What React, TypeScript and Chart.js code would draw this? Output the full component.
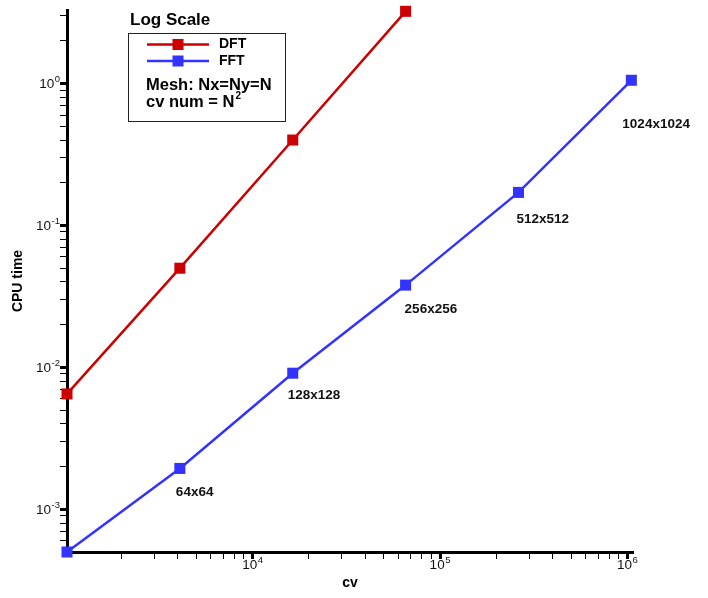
import React, { useEffect, useRef } from 'react';
import { Chart, registerables } from 'chart.js';

Chart.register(...registerables);

// ---- data ----
const cvValues = [1024, 4096, 16384, 65536, 262144, 1048576];
const dftTimes = [0.0065, 0.05, 0.4, 3.23];
const fftTimes = [0.0005, 0.00194, 0.0091, 0.038, 0.171, 1.055];
const meshLabels = ['', '64x64', '128x128', '256x256', '512x512', '1024x1024'];
const xMin = 1024;
const xMax = 1.07e6;
const yMin = 0.0005;
const yMax = 3.3;

// ---- style ----
const FONT = "'Liberation Sans', Arial, Helvetica, sans-serif";
const RED = '#cc0000';
const BLUE = '#3333ff';
const labelOffsets: [number, number][] = [
  [0, 0],
  [-4, 23.5],
  [-5, 22.5],
  [-1, 24],
  [-2, 27],
  [-9, 44],
];

function makeLogTicks(min: number, max: number) {
  const ticks: { value: number; major: boolean }[] = [];
  const e0 = Math.floor(Math.log10(min));
  const e1 = Math.ceil(Math.log10(max));
  for (let e = e0; e <= e1; e++) {
    for (let d = 1; d <= 9; d++) {
      const v = parseFloat((d * Math.pow(10, e)).toPrecision(6));
      if (v > min * 1.001 && v <= max) ticks.push({ value: v, major: d === 1 });
    }
  }
  return ticks;
}

function isMajor(v: number) {
  const l = Math.log10(v);
  return Math.abs(l - Math.round(l)) < 1e-6;
}

function drawPow(ctx: CanvasRenderingContext2D, exp: number, x: number, y: number, align: 'right' | 'center') {
  ctx.save();
  ctx.fillStyle = '#111';
  ctx.textBaseline = 'middle';
  ctx.textAlign = 'left';
  const baseFont = `13.5px ${FONT}`;
  const supFont = `9.5px ${FONT}`;
  ctx.font = baseFont;
  const w10 = ctx.measureText('10').width;
  ctx.font = supFont;
  const sup = String(exp);
  const ws = ctx.measureText(sup).width;
  const total = w10 + ws + 0.5;
  const start = align === 'right' ? x - total : x - total / 2;
  ctx.font = baseFont;
  ctx.fillText('10', start, y);
  ctx.font = supFont;
  ctx.fillText(sup, start + w10 + 0.5, y - 5);
  ctx.restore();
}

const overlayPlugin = {
  id: 'overlay',
  afterDraw(chart: any) {
    const ctx: CanvasRenderingContext2D = chart.ctx;
    const xs = chart.scales.x;
    const ys = chart.scales.y;

    // tick labels (major only)
    ys.ticks.forEach((t: any) => {
      if (!isMajor(t.value)) return;
      const py = ys.getPixelForValue(t.value);
      drawPow(ctx, Math.round(Math.log10(t.value)), ys.right - 7, py + 1, 'right');
    });
    xs.ticks.forEach((t: any) => {
      if (!isMajor(t.value)) return;
      const px = xs.getPixelForValue(t.value);
      drawPow(ctx, Math.round(Math.log10(t.value)), px, xs.top + 13, 'center');
    });

    // data labels for FFT points
    ctx.save();
    ctx.fillStyle = '#111';
    ctx.font = `bold 13.5px ${FONT}`;
    ctx.textAlign = 'left';
    ctx.textBaseline = 'middle';
    meshLabels.forEach((lab, i) => {
      if (!lab) return;
      const px = xs.getPixelForValue(cvValues[i]);
      const py = ys.getPixelForValue(fftTimes[i]);
      ctx.fillText(lab, px + labelOffsets[i][0], py + labelOffsets[i][1]);
    });
    ctx.restore();

    // title + legend box
    ctx.save();
    ctx.fillStyle = '#000';
    ctx.textBaseline = 'middle';
    ctx.textAlign = 'left';
    ctx.font = `bold 17px ${FONT}`;
    ctx.fillText('Log Scale', 130, 20.5);

    ctx.fillStyle = '#fff';
    ctx.fillRect(128.5, 33.5, 157, 88);
    ctx.strokeStyle = '#222';
    ctx.lineWidth = 1;
    ctx.strokeRect(128.5, 33.5, 157, 88);

    const entries: [string, string, number][] = [
      ['DFT', RED, 44.5],
      ['FFT', BLUE, 61],
    ];
    entries.forEach(([name, col, y]) => {
      ctx.strokeStyle = col;
      ctx.lineWidth = 2.5;
      ctx.beginPath();
      ctx.moveTo(147, y);
      ctx.lineTo(209, y);
      ctx.stroke();
      ctx.fillStyle = col;
      ctx.fillRect(178 - 5.5, y - 5.5, 11, 11);
      ctx.fillStyle = '#000';
      ctx.font = `bold 14px ${FONT}`;
      ctx.fillText(name, 219, y);
    });

    ctx.font = `bold 16.5px ${FONT}`;
    ctx.fillText('Mesh: Nx=Ny=N', 146, 85);
    const t2 = 'cv num = N';
    ctx.fillText(t2, 146, 102);
    const w2 = ctx.measureText(t2).width;
    ctx.font = `bold 10px ${FONT}`;
    ctx.fillText('2', 146 + w2 + 1, 96);
    ctx.restore();
  },
};

export default function App() {
  const ref = useRef<HTMLCanvasElement | null>(null);

  useEffect(() => {
    if (!ref.current) return;
    const tickW = (c: any) => (c.tick && isMajor(c.tick.value) ? 3 : 1);
    const chart = new Chart(ref.current, {
      type: 'line',
      data: {
        datasets: [
          {
            label: 'DFT',
            data: dftTimes.map((y, i) => ({ x: cvValues[i], y })),
            borderColor: RED,
            backgroundColor: RED,
            borderWidth: 2.5,
            pointStyle: 'rect',
            pointRadius: 7.8,
            pointBorderWidth: 0,
            pointBackgroundColor: RED,
            clip: false,
          } as any,
          {
            label: 'FFT',
            data: fftTimes.map((y, i) => ({ x: cvValues[i], y })),
            borderColor: BLUE,
            backgroundColor: BLUE,
            borderWidth: 2.5,
            pointStyle: 'rect',
            pointRadius: 7.8,
            pointBorderWidth: 0,
            pointBackgroundColor: BLUE,
            clip: false,
          } as any,
        ],
      },
      options: {
        responsive: false,
        animation: false,
        layout: { padding: { left: 0, right: 75, top: 10, bottom: 0 } },
        plugins: {
          legend: { display: false },
          tooltip: { enabled: false },
        },
        scales: {
          x: {
            type: 'logarithmic',
            position: 'bottom',
            min: xMin,
            max: xMax,
            border: { display: true, color: '#000', width: 3 },
            grid: {
              drawOnChartArea: false,
              drawTicks: true,
              tickLength: 7,
              tickColor: '#000',
              tickWidth: tickW,
            },
            ticks: { display: false },
            title: {
              display: true,
              text: 'cv',
              color: '#000',
              font: { family: FONT, size: 14, weight: 'bold' },
              padding: { top: 0, bottom: 6 },
            },
            afterBuildTicks: (s: any) => {
              s.ticks = makeLogTicks(xMin, xMax);
            },
            afterFit: (s: any) => {
              s.height = 46;
            },
          },
          y: {
            type: 'logarithmic',
            position: 'left',
            min: yMin,
            max: yMax,
            border: { display: true, color: '#000', width: 3 },
            grid: {
              drawOnChartArea: false,
              drawTicks: true,
              tickLength: 7,
              tickColor: '#000',
              tickWidth: tickW,
            },
            ticks: { display: false },
            title: {
              display: true,
              text: 'CPU time',
              color: '#000',
              font: { family: FONT, size: 14, weight: 'bold' },
              padding: { top: 9.5, bottom: 0 },
            },
            afterBuildTicks: (s: any) => {
              s.ticks = makeLogTicks(yMin, yMax);
            },
            afterFit: (s: any) => {
              s.width = 67;
            },
          },
        },
      } as any,
      plugins: [overlayPlugin],
    });
    return () => chart.destroy();
  }, []);

  return (
    <div style={{ position: 'absolute', left: 0, top: 0, width: 708, height: 598, background: '#fff' }}>
      <canvas ref={ref} width={708} height={598} />
    </div>
  );
}
